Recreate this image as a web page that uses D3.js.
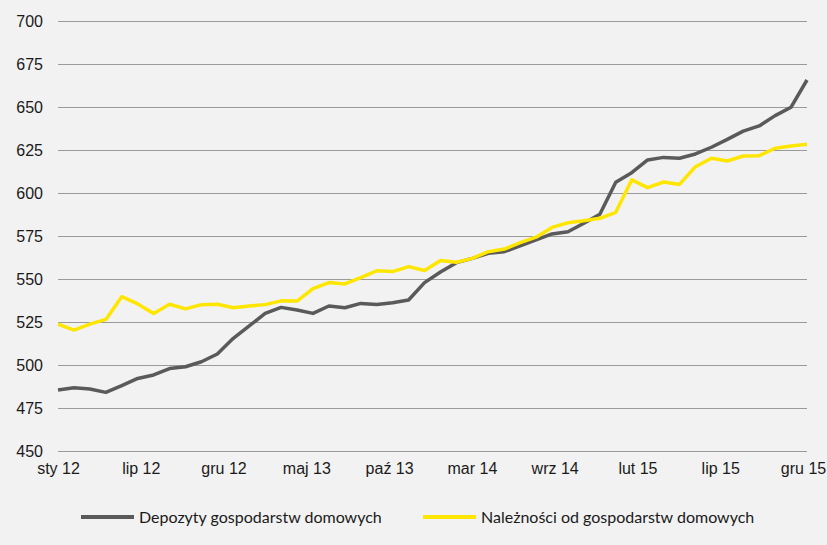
<!DOCTYPE html>
<html>
<head>
<meta charset="utf-8">
<script src="https://cdn.jsdelivr.net/npm/d3@7"></script>
<style>
  html, body { margin: 0; padding: 0; background: #f2f2f2; }
  svg { display: block; font-family: Lato, "DejaVu Sans", sans-serif; }
</style>
</head>
<body>
<div id="chart"></div>
<script>
// months Jan 2012 .. Dec 2015
const monthNames = ["sty", "lut", "mar", "kwi", "maj", "cze", "lip", "sie", "wrz", "paź", "lis", "gru"];
const years = ["12", "13", "14", "15"];
const months = years.flatMap(y => monthNames.map(m => m + " " + y));

const tickLabels = ["sty 12", "lip 12", "gru 12", "maj 13", "paź 13", "mar 14", "wrz 14", "lut 15", "lip 15", "gru 15"];
const yTicks = [450, 475, 500, 525, 550, 575, 600, 625, 650, 675, 700];

const depozyty = [
  485.5, 486.8, 486.0, 484.1, 488.0, 492.2, 494.2, 497.9, 499.0, 501.9, 506.4, 515.5,
  522.7, 530.0, 533.5, 532.0, 530.0, 534.3, 533.3, 535.8, 535.2, 536.2, 537.8, 547.9,
  554.1, 559.5, 562.0, 564.9, 565.9, 569.2, 572.7, 576.2, 577.5, 582.4, 587.6, 606.2,
  611.8, 619.2, 620.7, 620.2, 622.7, 626.6, 631.2, 636.0, 639.0, 645.0, 649.9, 665.7
];
const naleznosci = [
  523.8, 520.3, 523.8, 526.5, 539.7, 535.5, 530.0, 535.3, 532.6, 535.1, 535.3, 533.3,
  534.3, 535.1, 537.3, 537.2, 544.4, 547.9, 547.1, 550.8, 554.8, 554.3, 557.2, 554.9,
  560.7, 559.7, 562.0, 565.9, 567.4, 571.1, 574.3, 580.0, 582.7, 583.9, 585.3, 588.8,
  607.6, 603.1, 606.4, 605.0, 615.3, 620.2, 618.6, 621.5, 621.7, 626.0, 627.3, 628.3
];

const series = [
  { name: "Depozyty gospodarstw domowych", values: depozyty, color: "#5a5a5a" },
  { name: "Należności od gospodarstw domowych", values: naleznosci, color: "#ffe600" }
];

const width = 827, height = 545;
const margin = { top: 21, right: 20, bottom: 94, left: 58 };

const svg = d3.select("#chart").append("svg")
  .attr("width", width)
  .attr("height", height);

svg.append("rect")
  .attr("width", width)
  .attr("height", height)
  .attr("fill", "#f2f2f2");

// Scales
const x = d3.scalePoint()
  .domain(months)
  .range([margin.left, width - margin.right]);

const xLabels = d3.scalePoint()
  .domain(tickLabels)
  .range([margin.left, width - 24]);

const y = d3.scaleLinear()
  .domain([450, 700])
  .range([height - margin.bottom, margin.top]);

// Gridlines + y labels
const yAxis = d3.axisLeft(y)
  .tickValues(yTicks)
  .tickSize(-(width - margin.right - margin.left))
  .tickPadding(15);

svg.append("g")
  .attr("class", "y-axis")
  .attr("transform", "translate(" + margin.left + ",0)")
  .call(yAxis)
  .call(g => g.select(".domain").remove())
  .call(g => g.selectAll(".tick line").attr("stroke", "#9a9a9a").attr("stroke-width", 1))
  .call(g => g.selectAll(".tick text")
    .attr("x", -15)
    .attr("text-anchor", "end")
    .attr("fill", "#1a1a1a")
    .attr("font-size", 16));

// x labels
const xAxis = d3.axisBottom(xLabels).tickSize(0).tickPadding(12);

svg.append("g")
  .attr("class", "x-axis")
  .attr("transform", "translate(0," + (height - margin.bottom) + ")")
  .call(xAxis)
  .call(g => g.select(".domain").remove())
  .call(g => g.selectAll(".tick text")
    .attr("fill", "#1a1a1a")
    .attr("font-size", 16));

// Lines
const line = d3.line()
  .x((d, i) => x(months[i]))
  .y(d => y(d));

svg.selectAll(".series")
  .data(series)
  .join("path")
  .attr("class", "series")
  .attr("fill", "none")
  .attr("stroke", d => d.color)
  .attr("stroke-width", 3.5)
  .attr("stroke-linejoin", "round")
  .attr("d", d => line(d.values));

// Legend
const legendX = [81, 423];
const legend = svg.selectAll(".legend")
  .data(series)
  .join("g")
  .attr("class", "legend")
  .attr("transform", (d, i) => "translate(" + legendX[i] + ",517)");

legend.append("line")
  .attr("x1", 0)
  .attr("x2", 53)
  .attr("stroke", d => d.color)
  .attr("stroke-width", 4);

legend.append("text")
  .attr("x", 58)
  .attr("dy", "0.35em")
  .attr("font-size", 16)
  .attr("fill", "#1a1a1a")
  .text(d => d.name);
</script>
</body>
</html>
